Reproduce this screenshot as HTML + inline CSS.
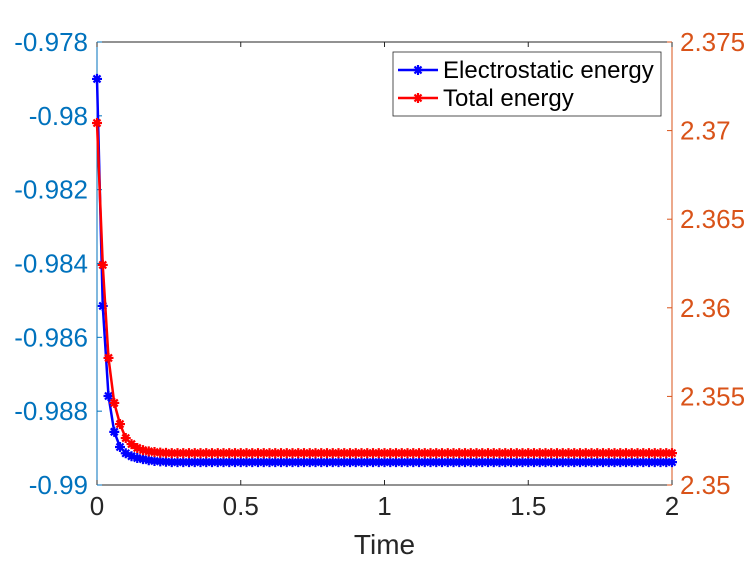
<!DOCTYPE html>
<html><head><meta charset="utf-8"><style>
body{margin:0;background:#fff;}
svg{display:block;font-family:"Liberation Sans",Arial,sans-serif;}
</style></head><body>
<svg id="chart" width="747" height="561"></svg>
<script>
const blueSeries=[-0.97900,-0.98515,-0.98759,-0.98856,-0.98897,-0.98914,-0.98922,-0.98927,-0.98930,-0.98933,-0.98935,-0.98936,-0.98937,-0.98938];
const redSeries=[2.37043,2.36242,2.35717,2.35463,2.35344,2.35265,2.35231,2.35209,2.35197,2.35190,2.35186,2.35183,2.35181,2.35180];
const leftTicks=[-0.978,-0.98,-0.982,-0.984,-0.986,-0.988,-0.99];
const leftTickLabels=["-0.978","-0.98","-0.982","-0.984","-0.986","-0.988","-0.99"];
const rightTicks=[2.375,2.37,2.365,2.36,2.355,2.35];
const rightTickLabels=["2.375","2.37","2.365","2.36","2.355","2.35"];
const xTicks=[0,0.5,1,1.5,2];
const xTickLabels=["0","0.5","1","1.5","2"];
const dt=0.02, nPts=101;

const L=97,R=672,T=42,B=485;
const xs=t=>L+(t/2)*(R-L);
const yl=v=>T+(-0.978-v)/0.012*(B-T);
const yr=v=>T+(2.375-v)/0.025*(B-T);
const NS="http://www.w3.org/2000/svg";
const svg=document.getElementById('chart');
function mk(tag,attrs,parent){const e=document.createElementNS(NS,tag);for(const k in attrs)e.setAttribute(k,attrs[k]);(parent||svg).appendChild(e);return e;}
function val(arr,i){return i<arr.length?arr[i]:arr[arr.length-1];}

let box=mk('rect',{x:L,y:T,width:R-L,height:B-T,fill:'#fff'});


mk('line',{x1:L,y1:T,x2:R,y2:T,stroke:'#262626','stroke-width':1});
let xa=mk('line',{x1:L,y1:B,x2:R,y2:B,stroke:'#262626','stroke-width':1});


let la=mk('line',{x1:L,y1:T,x2:L,y2:B,stroke:'#0072BD','stroke-width':1});


let ra=mk('line',{x1:R,y1:T,x2:R,y2:B,stroke:'#D95319','stroke-width':1});



xTicks.forEach((t,i)=>{
 const x=xs(t);
 mk('line',{x1:x,y1:B,x2:x,y2:B-5,stroke:'#262626'});
 mk('line',{x1:x,y1:T,x2:x,y2:T+5,stroke:'#262626'});
 const tx=mk('text',{x:x,y:B+30,'text-anchor':'middle','font-size':26,fill:'#262626'});
 tx.textContent=xTickLabels[i];
 
 
});
leftTicks.forEach((v,i)=>{
 const y=yl(v);
 mk('line',{x1:L,y1:y,x2:L+5,y2:y,stroke:'#0072BD'});
 const tx=mk('text',{x:L-9,y:y+9,'text-anchor':'end','font-size':26,fill:'#0072BD'});
 tx.textContent=leftTickLabels[i];
 
 
});
rightTicks.forEach((v,i)=>{
 const y=yr(v);
 mk('line',{x1:R,y1:y,x2:R-5,y2:y,stroke:'#D95319'});
 const tx=mk('text',{x:R+8,y:y+9,'text-anchor':'start','font-size':26,fill:'#D95319'});
 tx.textContent=rightTickLabels[i];
 
 
});
const xl=mk('text',{x:(L+R)/2,y:554,'text-anchor':'middle','font-size':28,fill:'#262626'});
xl.textContent='Time';



function star(g,x,y,c){
 const s=5;
 mk('path',{d:`M${x-s},${y}H${x+s}M${x},${y-s}V${y+s}M${x-s*.7},${y-s*.7}L${x+s*.7},${y+s*.7}M${x-s*.7},${y+s*.7}L${x+s*.7},${y-s*.7}`,stroke:c,'stroke-width':2.2},g);
}
function series(arr,yf,c,name){
 const g=mk('g',{});
 
 
 let d='';
 for(let i=0;i<nPts;i++){d+=(i?'L':'M')+xs(i*dt).toFixed(2)+','+yf(val(arr,i)).toFixed(2);}
 mk('path',{d:d,fill:'none',stroke:c,'stroke-width':2.5},g);
 for(let i=0;i<nPts;i++)star(g,xs(i*dt),yf(val(arr,i)),c);
}
series(blueSeries,yl,'#0000FF','electrostatic-energy-line');
series(redSeries,yr,'#FF0000','total-energy-line');

const lg=mk('g',{});


mk('rect',{x:393,y:52,width:268,height:64,fill:'#fff',stroke:'#262626','stroke-width':0.8},lg);
[['Electrostatic energy','#0000FF',70,'legend-entry-electrostatic'],['Total energy','#FF0000',98,'legend-entry-total']].forEach(e=>{
 const g=mk('g',{},lg);
 
 
 mk('line',{x1:398,y1:e[2],x2:438,y2:e[2],stroke:e[1],'stroke-width':2.5},g);
 star(g,418,e[2],e[1]);
 const t=mk('text',{x:443,y:e[2]+8,'font-size':24,fill:'#000'},g);
 t.textContent=e[0];
});
</script>
</body></html>
